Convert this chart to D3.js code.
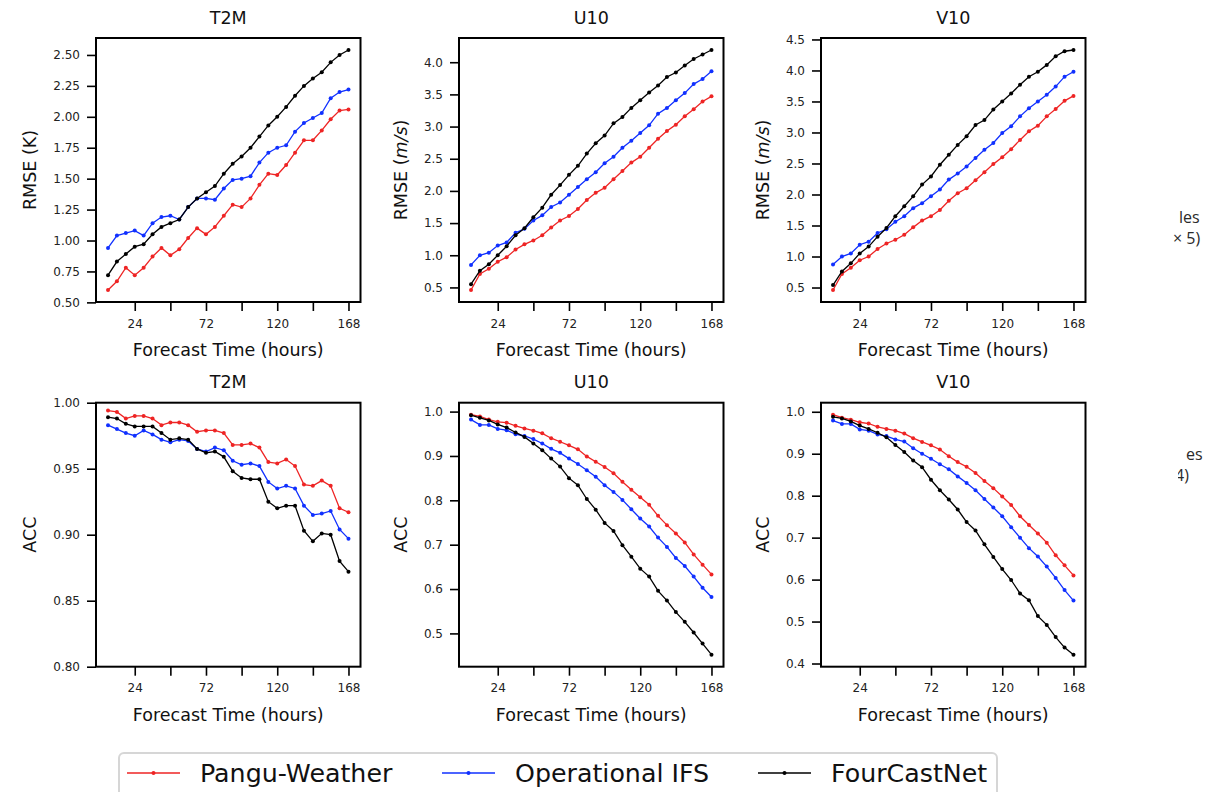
<!DOCTYPE html>
<html>
<head>
<meta charset="utf-8">
<script src="https://cdn.jsdelivr.net/npm/d3@7"></script>
<style>
  html, body { margin: 0; padding: 0; background: #fff; }
  svg { display: block; font-family: "DejaVu Sans", sans-serif; }
</style>
</head>
<body>
<svg id="chart" width="1213" height="792"></svg>
<script>
// Lead times (hours)
const hours = [6, 12, 18, 24, 30, 36, 42, 48, 54, 60, 66, 72, 78, 84, 90, 96,
               102, 108, 114, 120, 126, 132, 138, 144, 150, 156, 162, 168];
const xTicks = [24, 48, 72, 96, 120, 144, 168];
const xTickLabels = ["24", "", "72", "", "120", "", "168"];

const modelNames = ["Pangu-Weather", "Operational IFS", "FourCastNet"];
const modelColors = ["#ee2424", "#1030ff", "#000000"];

// RMSE, 2 m temperature (K)
const t2mRmsePangu = [0.60,0.67,0.78,0.72,0.78,0.87,0.94,0.88,0.93,1.02,1.10,1.05,1.11,1.20,1.29,1.27,1.34,1.45,1.54,1.53,1.61,1.71,1.81,1.81,1.89,1.98,2.05,2.06];
const t2mRmseIfs   = [0.94,1.04,1.06,1.08,1.04,1.14,1.19,1.20,1.17,1.27,1.34,1.34,1.33,1.42,1.49,1.50,1.52,1.63,1.71,1.75,1.77,1.88,1.95,1.99,2.03,2.15,2.20,2.22];
const t2mRmseFcn   = [0.72,0.83,0.89,0.95,0.97,1.05,1.11,1.14,1.17,1.27,1.34,1.39,1.44,1.54,1.62,1.68,1.75,1.84,1.93,2.00,2.08,2.17,2.25,2.31,2.36,2.44,2.50,2.54];

// RMSE, 10 m u-wind (m/s)
const u10RmsePangu = [0.46,0.71,0.79,0.90,0.97,1.09,1.17,1.23,1.31,1.43,1.54,1.61,1.72,1.86,1.97,2.05,2.18,2.31,2.44,2.53,2.67,2.81,2.93,3.03,3.16,3.27,3.39,3.47];
const u10RmseIfs   = [0.85,1.00,1.04,1.15,1.20,1.35,1.41,1.54,1.62,1.75,1.82,1.94,2.06,2.18,2.29,2.43,2.53,2.67,2.78,2.90,3.02,3.20,3.29,3.41,3.52,3.66,3.74,3.86];
const u10RmseFcn   = [0.55,0.76,0.86,1.00,1.14,1.31,1.42,1.59,1.74,1.94,2.09,2.25,2.39,2.58,2.74,2.86,3.05,3.15,3.29,3.41,3.53,3.64,3.77,3.84,3.95,4.05,4.12,4.19];

// RMSE, 10 m v-wind (m/s)
const v10RmsePangu = [0.46,0.72,0.82,0.94,1.00,1.12,1.21,1.27,1.35,1.47,1.58,1.65,1.75,1.90,2.02,2.10,2.23,2.36,2.49,2.60,2.73,2.88,3.02,3.11,3.26,3.38,3.51,3.59];
const v10RmseIfs   = [0.87,1.00,1.05,1.19,1.24,1.38,1.44,1.56,1.65,1.78,1.86,1.97,2.08,2.24,2.34,2.45,2.59,2.72,2.83,2.99,3.10,3.26,3.39,3.50,3.61,3.74,3.90,3.98];
const v10RmseFcn   = [0.54,0.76,0.89,1.05,1.16,1.32,1.46,1.65,1.81,1.97,2.16,2.29,2.48,2.64,2.80,2.94,3.12,3.20,3.37,3.50,3.63,3.77,3.90,3.98,4.09,4.23,4.31,4.33];

// ACC, 2 m temperature
const t2mAccPangu = [0.994,0.993,0.988,0.990,0.990,0.988,0.983,0.985,0.985,0.983,0.978,0.979,0.979,0.977,0.968,0.968,0.969,0.966,0.955,0.954,0.957,0.952,0.938,0.937,0.941,0.937,0.920,0.917];
const t2mAccIfs   = [0.983,0.980,0.977,0.975,0.979,0.976,0.972,0.970,0.972,0.971,0.965,0.963,0.966,0.964,0.956,0.953,0.954,0.952,0.940,0.935,0.937,0.935,0.922,0.915,0.916,0.918,0.904,0.897];
const t2mAccFcn   = [0.989,0.988,0.984,0.982,0.982,0.982,0.977,0.972,0.973,0.972,0.965,0.962,0.963,0.959,0.948,0.943,0.942,0.942,0.925,0.920,0.922,0.922,0.903,0.895,0.901,0.900,0.880,0.872];

// ACC, 10 m u-wind
const u10AccPangu = [0.993,0.989,0.982,0.977,0.975,0.968,0.962,0.957,0.951,0.940,0.932,0.924,0.915,0.899,0.887,0.875,0.861,0.842,0.824,0.807,0.790,0.765,0.744,0.725,0.705,0.678,0.655,0.633];
const u10AccIfs   = [0.982,0.970,0.970,0.961,0.958,0.949,0.945,0.938,0.928,0.916,0.907,0.894,0.882,0.868,0.853,0.834,0.819,0.801,0.780,0.759,0.741,0.716,0.695,0.670,0.652,0.628,0.603,0.582];
const u10AccFcn   = [0.992,0.986,0.980,0.971,0.964,0.953,0.943,0.928,0.913,0.894,0.876,0.850,0.834,0.803,0.779,0.749,0.731,0.699,0.673,0.646,0.628,0.596,0.574,0.548,0.526,0.502,0.477,0.452];

// ACC, 10 m v-wind
const v10AccPangu = [0.993,0.986,0.981,0.975,0.972,0.964,0.959,0.955,0.948,0.937,0.928,0.920,0.910,0.894,0.880,0.869,0.854,0.835,0.818,0.798,0.778,0.751,0.730,0.710,0.688,0.658,0.634,0.610];
const v10AccIfs   = [0.979,0.971,0.971,0.958,0.955,0.946,0.942,0.934,0.929,0.913,0.900,0.888,0.875,0.863,0.846,0.830,0.813,0.792,0.772,0.751,0.725,0.700,0.675,0.655,0.631,0.604,0.575,0.550];
const v10AccFcn   = [0.988,0.984,0.977,0.967,0.959,0.950,0.939,0.921,0.904,0.884,0.868,0.838,0.813,0.791,0.767,0.737,0.717,0.684,0.654,0.625,0.599,0.567,0.551,0.513,0.492,0.463,0.438,0.421];

// Y tick values per panel
const t2mRmseTicks = [0.50, 0.75, 1.00, 1.25, 1.50, 1.75, 2.00, 2.25, 2.50];
const u10RmseTicks = [0.5, 1.0, 1.5, 2.0, 2.5, 3.0, 3.5, 4.0];
const v10RmseTicks = [0.5, 1.0, 1.5, 2.0, 2.5, 3.0, 3.5, 4.0, 4.5];
const t2mAccTicks  = [0.80, 0.85, 0.90, 0.95, 1.00];
const u10AccTicks  = [0.5, 0.6, 0.7, 0.8, 0.9, 1.0];
const v10AccTicks  = [0.4, 0.5, 0.6, 0.7, 0.8, 0.9, 1.0];

const panels = [
  { title: "T2M", unit: "K",   italic: false, metric: "RMSE", series: [t2mRmsePangu, t2mRmseIfs, t2mRmseFcn], ticks: t2mRmseTicks, digits: 2 },
  { title: "U10", unit: "m/s", italic: true,  metric: "RMSE", series: [u10RmsePangu, u10RmseIfs, u10RmseFcn], ticks: u10RmseTicks, digits: 1 },
  { title: "V10", unit: "m/s", italic: true,  metric: "RMSE", series: [v10RmsePangu, v10RmseIfs, v10RmseFcn], ticks: v10RmseTicks, digits: 1 },
  { title: "T2M", metric: "ACC", series: [t2mAccPangu, t2mAccIfs, t2mAccFcn], ticks: t2mAccTicks, digits: 2, ylim: [0.80, 1.00] },
  { title: "U10", metric: "ACC", series: [u10AccPangu, u10AccIfs, u10AccFcn], ticks: u10AccTicks, digits: 1 },
  { title: "V10", metric: "ACC", series: [v10AccPangu, v10AccIfs, v10AccFcn], ticks: v10AccTicks, digits: 1 }
];

// Grid geometry
const colLeft = [96, 459, 821];
const rowTop = [38, 402.7];
const plotW = 264.5, plotH = 264;

const svg = d3.select("#chart");
svg.append("rect").attr("width", 1213).attr("height", 792).attr("fill", "#fff");

// Matplotlib-like 5% margins
function padded(ext, frac) {
  const r = ext[1] - ext[0];
  return [ext[0] - r * frac, ext[1] + r * frac];
}

const xDomain = padded(d3.extent(hours), 0.05);

panels.forEach((p, i) => {
  const left = colLeft[i % 3];
  const top = rowTop[Math.floor(i / 3)];
  const g = svg.append("g").attr("transform", `translate(${left},${top})`);

  const x = d3.scaleLinear().domain(xDomain).range([0, plotW]);
  const all = p.series.flat();
  const y = d3.scaleLinear().domain(p.ylim || padded(d3.extent(all), 0.05)).range([plotH, 0]);

  // Axes
  const xAxis = d3.axisBottom(x).tickValues(xTicks)
    .tickFormat((d, k) => xTickLabels[k]).tickSize(9).tickPadding(8);
  const yAxis = d3.axisLeft(y).tickValues(p.ticks)
    .tickFormat(d3.format(`.${p.digits}f`)).tickSize(9).tickPadding(7);

  const gx = g.append("g").attr("transform", `translate(0,${plotH})`).call(xAxis);
  const gy = g.append("g").call(yAxis);
  [gx, gy].forEach(a => {
    a.select(".domain").remove();
    a.selectAll(".tick line").attr("stroke", "#000").attr("stroke-width", 1.6);
    a.selectAll(".tick text").attr("fill", "#222").style("font-size", "12px")
      .style("font-family", "'DejaVu Sans', sans-serif");
  });

  // Series lines and markers
  const line = d3.line().x((d, k) => x(hours[k])).y(d => y(d));
  p.series.forEach((vals, s) => {
    g.append("path").datum(vals).attr("d", line)
      .attr("fill", "none").attr("stroke", modelColors[s]).attr("stroke-width", 1.3);
    g.selectAll(null).data(vals).enter().append("circle")
      .attr("cx", (d, k) => x(hours[k])).attr("cy", d => y(d))
      .attr("r", 2).attr("fill", modelColors[s]);
  });

  // Frame
  g.append("rect").attr("width", plotW).attr("height", plotH)
    .attr("fill", "none").attr("stroke", "#000").attr("stroke-width", 2);

  // Title
  g.append("text").attr("x", plotW / 2).attr("y", -14.5)
    .attr("text-anchor", "middle").style("font-size", "17.5px").attr("fill", "#111")
    .text(p.title);

  // X label
  g.append("text").attr("x", plotW / 2).attr("y", plotH + 54)
    .attr("text-anchor", "middle").style("font-size", "17.5px").attr("fill", "#111")
    .text("Forecast Time (hours)");

  // Y label
  const yl = g.append("text")
    .attr("transform", `translate(${p.digits === 2 ? -66 : -58},${plotH / 2}) rotate(-90)`)
    .attr("text-anchor", "middle").attr("dy", "0.35em")
    .style("font-size", "17.5px").attr("fill", "#111");
  if (p.metric === "RMSE") {
    yl.append("tspan").text("RMSE (");
    yl.append("tspan").style("font-style", p.italic ? "italic" : "normal").text(p.unit);
    yl.append("tspan").text(")");
  } else {
    yl.text("ACC");
  }
});

// Legend
const legend = svg.append("g");
legend.append("rect").attr("x", 119).attr("y", 753).attr("width", 878).attr("height", 60)
  .attr("rx", 5).attr("fill", "#fff").attr("stroke", "#d6d6d6").attr("stroke-width", 2);
const legendX = [127, 442, 758];
modelNames.forEach((name, s) => {
  const lx = legendX[s];
  legend.append("line").attr("x1", lx).attr("x2", lx + 53).attr("y1", 773).attr("y2", 773)
    .attr("stroke", modelColors[s]).attr("stroke-width", 1.3);
  legend.append("circle").attr("cx", lx + 26.5).attr("cy", 773).attr("r", 2).attr("fill", modelColors[s]);
  legend.append("text").attr("x", lx + 73).attr("y", 782)
    .style("font-size", "25.3px").attr("fill", "#111").text(name);
});

// Text remnants at the right edge
const clipTop = svg.append("clipPath").attr("id", "edgeClipTop");
clipTop.append("rect").attr("x", 1171).attr("y", 0).attr("width", 50).attr("height", 300);
const clipBottom = svg.append("clipPath").attr("id", "edgeClipBottom");
clipBottom.append("rect").attr("x", 1178).attr("y", 300).attr("width", 50).attr("height", 300);
const edgeStyle = sel => sel
  .style("font-family", "'Open Sans', 'Liberation Sans', sans-serif")
  .style("font-size", "16px").attr("fill", "#2a2a2a");
const edgeTop = svg.append("g").attr("clip-path", "url(#edgeClipTop)").call(edgeStyle);
edgeTop.append("text").attr("x", 1179).attr("y", 223).text("les");
edgeTop.append("text").attr("x", 1173).attr("y", 244).text("× 5)");
const edgeBottom = svg.append("g").attr("clip-path", "url(#edgeClipBottom)").call(edgeStyle);
edgeBottom.append("text").attr("x", 1186).attr("y", 460).text("es");
edgeBottom.append("text").attr("x", 1175).attr("y", 481).text("4)");
</script>
</body>
</html>
